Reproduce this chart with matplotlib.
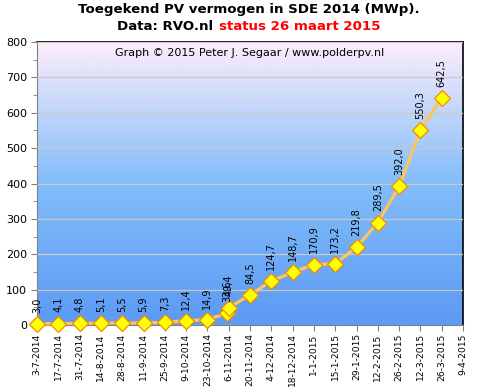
import matplotlib
matplotlib.use("Agg")
import matplotlib.pyplot as plt
import matplotlib.dates as mdates
from matplotlib.colors import LinearSegmentedColormap
import numpy as np
import pandas as pd

# data
dates = ['2014-07-03', '2014-07-17', '2014-07-31', '2014-08-14', '2014-08-28',
         '2014-09-11', '2014-09-25', '2014-10-09', '2014-10-23', '2014-11-05',
         '2014-11-06', '2014-11-20', '2014-12-04', '2014-12-18', '2015-01-01',
         '2015-01-15', '2015-01-29', '2015-02-12', '2015-02-26', '2015-03-12',
         '2015-03-26']
mwp = [3.0, 4.1, 4.8, 5.1, 5.5, 5.9, 7.3, 12.4, 14.9, 33.6,
       49.4, 84.5, 124.7, 148.7, 170.9, 173.2, 219.8, 289.5, 392.0, 550.3,
       642.5]
tick_labels = ['3-7-2014', '17-7-2014', '31-7-2014', '14-8-2014', '28-8-2014',
               '11-9-2014', '25-9-2014', '9-10-2014', '23-10-2014', '6-11-2014',
               '20-11-2014', '4-12-2014', '18-12-2014', '1-1-2015', '15-1-2015',
               '29-1-2015', '12-2-2015', '26-2-2015', '12-3-2015', '26-3-2015',
               '9-4-2015']

x = mdates.date2num(pd.to_datetime(dates))
ticks = mdates.date2num(pd.to_datetime(tick_labels, format='%d-%m-%Y'))

fig = plt.figure(figsize=(4.81, 3.91), dpi=100)
ax = fig.add_axes([37 / 481, 1 - 325 / 391, 426 / 481, 283 / 391])

# background gradient
cmap = LinearSegmentedColormap.from_list(
    'bg', [(0.0, '#5c9af4'), (0.5, '#82bdfa'), (1.0, '#fdedfa')])
grad = np.linspace(0, 1, 256).reshape(-1, 1)
ax.imshow(grad, cmap=cmap, aspect='auto', origin='lower',
          extent=[0, 1, 0, 1], transform=ax.transAxes, zorder=0)

ax.set_xlim(ticks[0], ticks[-1])
ax.set_ylim(0, 800)
ax.set_yticks(range(0, 801, 100))
ax.set_yticks(range(50, 800, 100), minor=True)
ax.yaxis.grid(True, color='#c8c8c8', lw=0.9, zorder=1)
ax.set_axisbelow(False)

ax.plot(x, mwp, color='#ffc45e', lw=2.3, zorder=3, clip_on=False,
        marker='D', markersize=8.5, markerfacecolor='#ffff00',
        markeredgecolor='#f08a00', markeredgewidth=0.9)

for xi, v in zip(x, mwp):
    ax.annotate(f'{v:.1f}'.replace('.', ','), (xi, v), xytext=(0, 8),
                textcoords='offset points', rotation=90, ha='center',
                va='bottom', fontsize=7, annotation_clip=False, zorder=4)

ax.set_xticks(ticks)
ax.set_xticklabels(tick_labels, rotation=90, fontsize=6.6)
ax.tick_params(axis='y', labelsize=8, length=4, color='#808080', pad=3)
ax.tick_params(axis='y', which='minor', length=3, color='#808080')
ax.tick_params(axis='x', length=4, color='#808080', pad=2)

for s in ['left', 'bottom']:
    ax.spines[s].set_color('#808080')
for s in ['top', 'right']:
    ax.spines[s].set_color('black')
    ax.spines[s].set_linewidth(1.2)

fig.text(249 / 481, 1 - 9 / 391, 'Toegekend PV vermogen in SDE 2014 (MWp).',
         ha='center', va='center', fontsize=9.6, fontweight='bold')
fig.text(213 / 481, 1 - 26 / 391, 'Data: RVO.nl', ha='right', va='center',
         fontsize=9.6, fontweight='bold')
fig.text(219 / 481, 1 - 26 / 391, 'status 26 maart 2015', ha='left',
         va='center', fontsize=9.6, fontweight='bold', color='#ff0000')
fig.text(250 / 481, 1 - 53 / 391,
         'Graph \u00a9 2015 Peter J. Segaar / www.polderpv.nl',
         ha='center', va='center', fontsize=8)

fig.savefig('out.png', dpi=100)
